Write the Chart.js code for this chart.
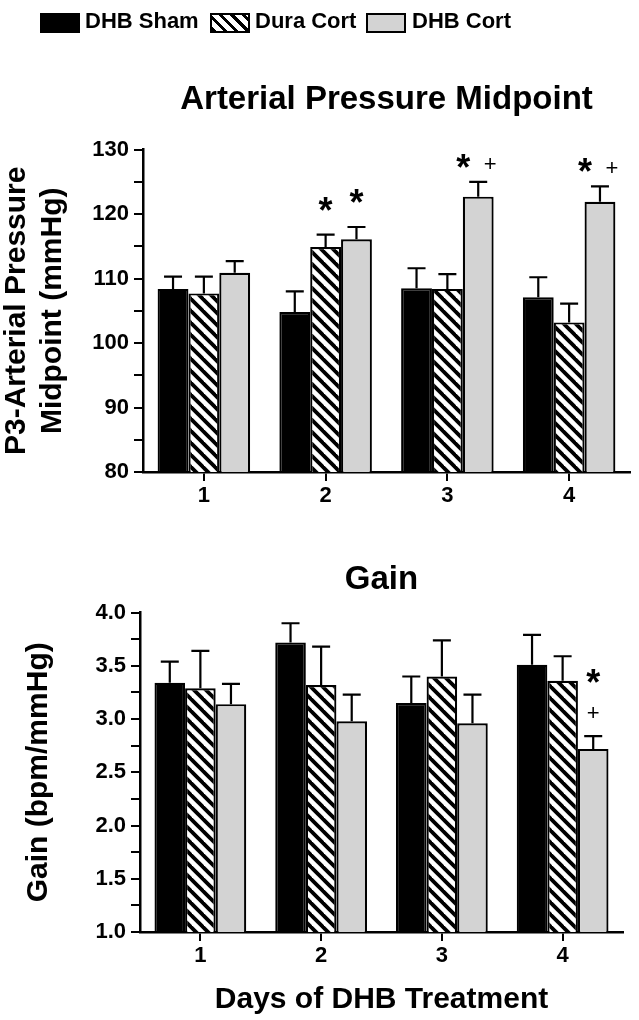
<!DOCTYPE html>
<html>
<head>
<meta charset="utf-8">
<script src="https://cdn.jsdelivr.net/npm/chart.js@4.4.1/dist/chart.umd.min.js"></script>
<style>
body{margin:0;background:#fff;width:639px;height:1020px;position:relative;overflow:hidden;font-family:"Liberation Sans",Arial,sans-serif;}
#wrapTop{position:absolute;left:0;top:0;width:639px;height:520px;}
#wrapBottom{position:absolute;left:0;top:520px;width:639px;height:500px;}
#legend{position:absolute;left:0;top:0;width:639px;height:50px;z-index:2;}
.sw{position:absolute;top:13px;width:36px;height:16px;border:2px solid #000;}
.lt{position:absolute;top:8px;font-weight:bold;font-size:22px;line-height:25px;color:#000;white-space:nowrap;}
</style>
</head>
<body>
<div id="wrapTop"><canvas id="apChart" width="639" height="520"></canvas></div>
<div id="wrapBottom"><canvas id="gainChart" width="639" height="500"></canvas></div>
<div id="legend">
  <div class="sw" style="left:40px;background:#000;"></div><div class="lt" style="left:85px;">DHB Sham</div>
  <div class="sw" style="left:210px;background:repeating-linear-gradient(45deg,#000 0 3px,#fff 3px 8px);"></div><div class="lt" style="left:255px;">Dura Cort</div>
  <div class="sw" style="left:366px;background:#d3d3d3;"></div><div class="lt" style="left:412px;">DHB Cort</div>
</div>
<script>
// ======================================
// DATA
// ======================================

const days = ["1", "2", "3", "4"];
const seriesNames = ["DHB Sham", "Dura Cort", "DHB Cort"];

// arterial pressure midpoint (mmHg), mean and SEM
const apSham = [108.4, 104.8, 108.5, 107.1];
const apShamSem = [1.9, 3.2, 3.1, 3.1];
const apDura = [107.7, 114.9, 108.4, 103.2];
const apDuraSem = [2.6, 1.9, 2.3, 2.9];
const apCort = [110.9, 116.1, 122.7, 121.9];
const apCortSem = [1.8, 1.9, 2.3, 2.4];

// gain (bpm/mmHg), mean and SEM
const gainSham = [3.34, 3.72, 3.15, 3.51];
const gainShamSem = [0.20, 0.18, 0.25, 0.28];
const gainDura = [3.29, 3.32, 3.40, 3.36];
const gainDuraSem = [0.35, 0.36, 0.34, 0.23];
const gainCort = [3.14, 2.98, 2.96, 2.72];
const gainCortSem = [0.19, 0.25, 0.27, 0.12];

// significance marks (* and +)
const apStarDura = [0, 1, 0, 0];
const apStarCort = [0, 1, 1, 1];
const apPlusCort = [0, 0, 1, 1];
const gainStarCort = [0, 0, 0, 1];
const gainPlusCort = [0, 0, 0, 1];

const noMarks = [0, 0, 0, 0];

// ======================================
// STYLE HELPERS
// ======================================

const FONT = "'Liberation Sans', Arial, sans-serif";

function makeHatch(){
    let c = document.createElement("canvas");
    c.width = 12;
    c.height = 12;
    let g = c.getContext("2d");
    g.fillStyle = "#fff";
    g.fillRect(0, 0, 12, 12);
    g.strokeStyle = "#000";
    g.lineWidth = 3.8;
    [-12, 0, 12].forEach(function(k){
        g.beginPath();
        g.moveTo(-2, -2 + k);
        g.lineTo(14, 14 + k);
        g.stroke();
    });
    return g.createPattern(c, "repeat");
}

const hatch = makeHatch();
const fills = ["#000000", hatch, "#d3d3d3"];

// ======================================
// PLUGINS: ERROR BARS + SIGNIFICANCE MARKS
// ======================================

const errorBars = {
    id: "errorBars",
    afterDatasetsDraw(chart){
        let ctx = chart.ctx;
        let y = chart.scales.y;
        ctx.save();
        ctx.strokeStyle = "#000";
        ctx.lineWidth = 2.2;
        chart.data.datasets.forEach(function(ds, i){
            chart.getDatasetMeta(i).data.forEach(function(bar, j){
                let top = y.getPixelForValue(ds.data[j] + ds.sem[j]);
                ctx.beginPath();
                ctx.moveTo(bar.x, bar.y);
                ctx.lineTo(bar.x, top);
                ctx.moveTo(bar.x - 9, top);
                ctx.lineTo(bar.x + 9, top);
                ctx.stroke();
            });
        });
        ctx.restore();
    }
};

const sigMarks = {
    id: "sigMarks",
    afterDatasetsDraw(chart, args, opts){
        let ctx = chart.ctx;
        let y = chart.scales.y;
        ctx.save();
        ctx.fillStyle = "#000";
        ctx.textAlign = "center";
        ctx.textBaseline = "alphabetic";
        chart.data.datasets.forEach(function(ds, i){
            chart.getDatasetMeta(i).data.forEach(function(bar, j){
                let star = ds.stars[j];
                let plus = ds.plus[j];
                if(!star && !plus){ return; }
                let top = y.getPixelForValue(ds.data[j] + ds.sem[j]);
                let sx = bar.x, sy, px = bar.x, py;
                if(opts.layout == "row"){
                    if(plus){
                        sx = bar.x - 15;
                        px = bar.x + 12;
                        sy = top - 17;
                        py = top - 19;
                    }
                    else{
                        sy = top - 27;
                    }
                }
                else{
                    py = top - 24;
                    sy = top - 56;
                }
                if(star){
                    ctx.font = "bold 36px " + FONT;
                    ctx.fillText("*", sx, sy + 15);
                }
                if(plus){
                    ctx.font = "22px " + FONT;
                    ctx.fillText("+", px, py + 8);
                }
            });
        });
        ctx.restore();
    }
};

// ======================================
// CHART BUILDER
// ======================================

function buildChart(id, cfg){

    let datasets = cfg.values.map(function(vals, i){
        return {
            label: seriesNames[i],
            data: vals,
            sem: cfg.sems[i],
            stars: cfg.stars[i],
            plus: cfg.plus[i],
            backgroundColor: fills[i],
            borderColor: "#000",
            borderWidth: 2.2,
            categoryPercentage: 0.76,
            barPercentage: 1.0
        };
    });

    return new Chart(document.getElementById(id), {
        type: "bar",
        data: { labels: days, datasets: datasets },
        plugins: [errorBars, sigMarks],
        options: {
            responsive: false,
            animation: false,
            layout: { padding: { left: 0, right: cfg.padRight, top: 0, bottom: 0 } },
            plugins: {
                legend: { display: false },
                tooltip: { enabled: false },
                title: {
                    display: true,
                    text: cfg.title,
                    color: "#000",
                    fullSize: false,
                    font: { family: FONT, size: 33, weight: "bold" },
                    padding: cfg.titlePad
                },
                sigMarks: { layout: cfg.markLayout }
            },
            scales: {
                x: {
                    afterFit: function(s){ s.height = cfg.xHeight; },
                    grid: { display: true, drawOnChartArea: false, offset: false, tickLength: 9, color: "#000", lineWidth: 2 },
                    border: { display: true, color: "#000", width: 2.5 },
                    ticks: { color: "#000", padding: 2, font: { family: FONT, size: 22, weight: "bold" } },
                    title: {
                        display: !!cfg.xTitle,
                        text: cfg.xTitle || "",
                        color: "#000",
                        font: { family: FONT, size: 30, weight: "bold" },
                        padding: { top: 0, bottom: 2 }
                    }
                },
                y: {
                    min: cfg.min,
                    max: cfg.max,
                    afterFit: function(s){ s.width = cfg.yWidth; },
                    grid: { display: true, drawOnChartArea: false, tickLength: 9, color: "#000", lineWidth: 2 },
                    border: { display: true, color: "#000", width: 2.5 },
                    ticks: {
                        stepSize: cfg.step,
                        color: "#000",
                        padding: 5,
                        autoSkip: false,
                        font: { family: FONT, size: 22, weight: "bold" },
                        callback: cfg.tickFmt
                    },
                    title: {
                        display: true,
                        text: cfg.yTitle,
                        color: "#000",
                        font: { family: FONT, size: 30, weight: "bold" },
                        padding: { top: cfg.yTitlePad, bottom: 0 }
                    }
                }
            }
        }
    });
}

// ======================================
// ARTERIAL PRESSURE MIDPOINT
// ======================================

buildChart("apChart", {
    title: "Arterial Pressure Midpoint",
    titlePad: { top: 80, bottom: 30 },
    values: [apSham, apDura, apCort],
    sems: [apShamSem, apDuraSem, apCortSem],
    stars: [noMarks, apStarDura, apStarCort],
    plus: [noMarks, noMarks, apPlusCort],
    markLayout: "row",
    min: 80,
    max: 130,
    step: 5,
    tickFmt: function(v){ return v % 10 == 0 ? v : ""; },
    yTitle: ["P3-Arterial Pressure", "Midpoint (mmHg)"],
    yTitlePad: -1,
    yWidth: 143,
    xHeight: 48,
    padRight: 9
});

// ======================================
// GAIN
// ======================================

buildChart("gainChart", {
    title: "Gain",
    titlePad: { top: 40, bottom: 13 },
    values: [gainSham, gainDura, gainCort],
    sems: [gainShamSem, gainDuraSem, gainCortSem],
    stars: [noMarks, noMarks, gainStarCort],
    plus: [noMarks, noMarks, gainPlusCort],
    markLayout: "column",
    min: 1,
    max: 4,
    step: 0.25,
    tickFmt: function(v){ return Math.abs(v * 2 - Math.round(v * 2)) < 1e-6 ? v.toFixed(1) : ""; },
    yTitle: "Gain (bpm/mmHg)",
    yTitlePad: 21,
    yWidth: 140,
    xHeight: 88,
    xTitle: "Days of DHB Treatment",
    padRight: 16
});
</script>
</body>
</html>
